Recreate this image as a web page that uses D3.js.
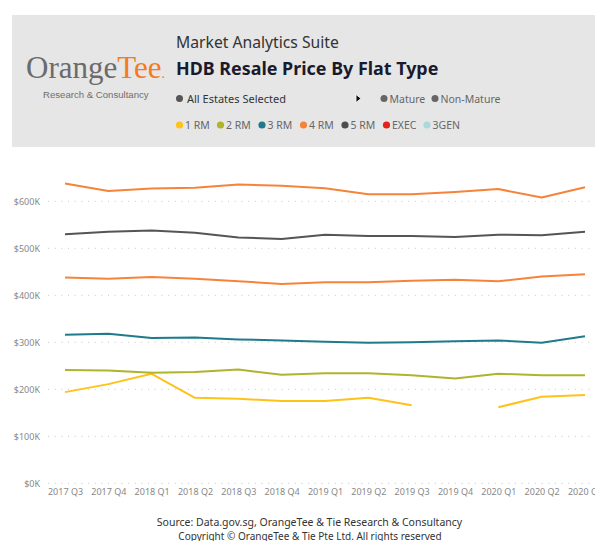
<!DOCTYPE html>
<html><head><meta charset="utf-8">
<script src="https://cdn.jsdelivr.net/npm/d3@7"></script>
<style>
html,body{margin:0;padding:0;background:#fff;overflow:hidden;}
svg{display:block;}
</style></head>
<body>
<svg id="chart" width="595" height="541"></svg>
<script>
// ---- data ----
const quarters = ["2017 Q3","2017 Q4","2018 Q1","2018 Q2","2018 Q3","2018 Q4","2019 Q1","2019 Q2","2019 Q3","2019 Q4","2020 Q1","2020 Q2","2020 Q3"];
const rm1  = [194, 211, 233, 182, 180, 175, 175, 182, 166, null, 162, 184, 188];
const rm2  = [241, 240, 235, 237, 242, 231, 234, 234, 230, 223, 233, 230, 230];
const rm3  = [316, 318, 309, 310, 306, 304, 301, 299, 300, 302, 304, 299, 313];
const rm4  = [438, 435, 439, 435, 430, 424, 428, 428, 431, 433, 430, 440, 445];
const rm5  = [530, 535, 538, 533, 523, 520, 529, 526, 526, 524, 529, 528, 535];
const top4 = [638, 622, 627, 629, 636, 633, 628, 615, 615, 620, 626, 608, 630];
const yTicks = [0, 100, 200, 300, 400, 500, 600];
const legendNames = ["1 RM","2 RM","3 RM","4 RM","5 RM","EXEC","3GEN"];
const legendColors = ["#FFC21A","#AFB42C","#1F7A8C","#F5843A","#4D4D4D","#E3211E","#A9D9DD"];
const series = [
  {name:"1 RM", values: rm1, color:"#FFC21A"},
  {name:"2 RM", values: rm2, color:"#AFB42C"},
  {name:"3 RM", values: rm3, color:"#1F7A8C"},
  {name:"4 RM", values: rm4, color:"#F5843A"},
  {name:"5 RM", values: rm5, color:"#555555"},
  {name:"4 RM (upper)", values: top4, color:"#F5843A"}
];

const svg = d3.select("#chart");
const font = "'Noto Sans', 'Open Sans', sans-serif";

// ---- header panel ----
svg.append("rect").attr("x",12).attr("y",15).attr("width",583).attr("height",132).attr("fill","#E6E6E6");

const logo = svg.append("text").attr("x",26).attr("y",78)
  .attr("font-family","'Liberation Serif', 'DejaVu Serif', serif").attr("font-size",31);
logo.append("tspan").attr("fill","#6B6B6B").text("Orange");
logo.append("tspan").attr("fill","#F47B20").text("Tee");
logo.append("tspan").attr("fill","#F47B20").attr("font-size",14).text(".");
svg.append("text").attr("x",43).attr("y",98).attr("font-family","'Liberation Sans', Arial, sans-serif")
  .attr("font-size",9.6).attr("fill","#6E6E6E").text("Research & Consultancy");

svg.append("text").attr("x",176).attr("y",48).attr("font-family",font).attr("font-size",15.7)
  .attr("fill","#333").text("Market Analytics Suite");
svg.append("text").attr("x",176).attr("y",75).attr("font-family",font).attr("font-size",17.9)
  .attr("font-weight","bold").attr("fill","#1A1A2E").text("HDB Resale Price By Flat Type");

svg.append("circle").attr("cx",179.5).attr("cy",98.5).attr("r",3.5).attr("fill","#555");
svg.append("text").attr("x",187).attr("y",102.5).attr("font-family",font).attr("font-size",11)
  .attr("fill","#333").text("All Estates Selected");
svg.append("path").attr("d","M356,94.5 L361,98.5 L356,102.5 Z").attr("fill","#111").attr("stroke","#fff").attr("stroke-width",0.8);
svg.append("circle").attr("cx",384).attr("cy",98.5).attr("r",3.5).attr("fill","#666");
svg.append("text").attr("x",389.5).attr("y",102.5).attr("font-family",font).attr("font-size",10.5)
  .attr("fill","#666").text("Mature");
svg.append("circle").attr("cx",435).attr("cy",98.5).attr("r",3.5).attr("fill","#666");
svg.append("text").attr("x",440.5).attr("y",102.5).attr("font-family",font).attr("font-size",10.5)
  .attr("fill","#666").text("Non-Mature");

// legend
const legX = [179.5, 220.5, 262, 303.5, 345, 386.5, 427];
const leg = svg.append("g");
legendNames.forEach((n,i)=>{
  leg.append("circle").attr("cx",legX[i]).attr("cy",125).attr("r",3.6).attr("fill",legendColors[i]);
  leg.append("text").attr("x",legX[i]+5.5).attr("y",129).attr("font-family",font).attr("font-size",10.5)
    .attr("fill","#666").text(n);
});

// ---- chart ----
const x = d3.scalePoint().domain(quarters).range([65,585]);
const y = d3.scaleLinear().domain([0,600]).range([483.3,201.3]);

const grid = svg.append("g");
yTicks.forEach(t=>{
  grid.append("line").attr("x1",48).attr("x2",595).attr("y1",y(t)).attr("y2",y(t))
    .attr("stroke","#C8C8C8").attr("stroke-width",1).attr("stroke-dasharray","1,5.67");
});

const yAxis = d3.axisLeft(y).tickValues(yTicks).tickSize(0).tickPadding(0)
  .tickFormat(d=>"$"+d+"K");
const ya = svg.append("g").attr("transform","translate(40,0)").call(yAxis);
ya.select(".domain").remove();
ya.selectAll("text").attr("font-family",font).attr("font-size",9).attr("fill","#888");

const xAxis = d3.axisBottom(x).tickSize(0).tickPadding(0);
const xa = svg.append("g").attr("transform","translate(0,489)").call(xAxis);
xa.select(".domain").remove();
xa.selectAll("text").attr("font-family",font).attr("font-size",9).attr("fill","#888").attr("dy","0.71em");

const line = d3.line().defined(d=>d!=null).x((d,i)=>x(quarters[i])).y(d=>y(d));
series.forEach(s=>{
  svg.append("path").datum(s.values).attr("d",line).attr("fill","none")
    .attr("stroke",s.color).attr("stroke-width",2).attr("stroke-linejoin","round");
});

// ---- footer ----
svg.append("text").attr("x",309.5).attr("y",526).attr("text-anchor","middle").attr("font-family",font)
  .attr("font-size",10.5).attr("fill","#333").text("Source: Data.gov.sg, OrangeTee & Tie Research & Consultancy");
svg.append("text").attr("x",310).attr("y",540).attr("text-anchor","middle").attr("font-family",font)
  .attr("font-size",10).attr("fill","#333").text("Copyright © OrangeTee & Tie Pte Ltd. All rights reserved");
</script>
</body></html>
